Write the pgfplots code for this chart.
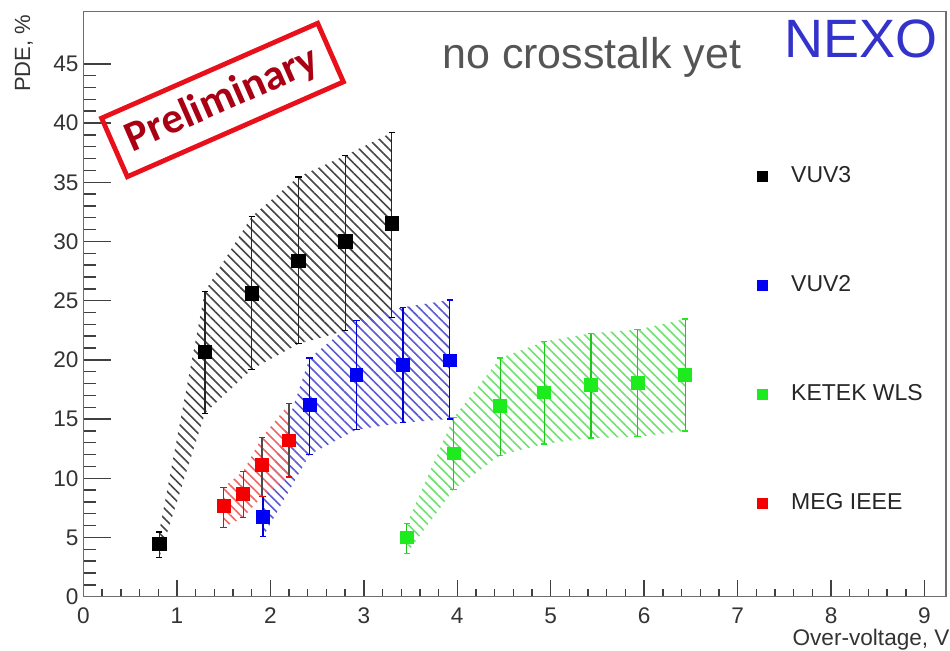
\documentclass[border=0pt]{standalone}
\usepackage{pgfplots}
\pgfplotsset{compat=1.18}
\usepackage{fontspec}
\setmainfont{Liberation Sans}
\newfontfamily\carlito{Carlito}
\usetikzlibrary{patterns.meta}
\definecolor{tickgray}{RGB}{51,51,51}
\definecolor{framegray}{RGB}{110,110,110}
\definecolor{annogray}{RGB}{85,85,85}
\definecolor{nexoblue}{RGB}{51,51,204}
\definecolor{prelred}{RGB}{232,16,26}
\definecolor{preltext}{RGB}{170,0,20}
\definecolor{ptblue}{RGB}{0,0,245}
\definecolor{ptred}{RGB}{245,0,0}
\definecolor{ptgreen}{RGB}{30,235,30}
\definecolor{hatchblack}{RGB}{70,70,70}
\definecolor{hatchblue}{RGB}{90,90,215}
\definecolor{hatchred}{RGB}{240,100,100}
\definecolor{hatchgreen}{RGB}{110,225,110}
\begin{document}
\begin{tikzpicture}
\useasboundingbox (-41.75pt,-27.15pt) rectangle (433.25pt,298.35pt);
\begin{axis}[
  scale only axis, width=431.25pt, height=292.6pt,
  at={(0,0)}, anchor=south west,
  xmin=0, xmax=9.23, ymin=0, ymax=49.42,
  xtick={0,1,...,9}, ytick={0,5,...,45},
  minor x tick num=4, minor y tick num=4,
  xtick pos=bottom, ytick pos=left,
  tick align=inside,
  xtick style={/pgfplots/major tick length=8.5pt,/pgfplots/minor tick length=4pt},
  ytick style={/pgfplots/major tick length=14pt,/pgfplots/minor tick length=6.5pt},
  every tick/.style={draw=black!75, line width=0.7pt},
  axis line style={draw=framegray, line width=0.8pt},
  /pgf/number format/assume math mode=true,
  ticklabel style={font=\fontsize{11.3}{13}\selectfont, text=tickgray},
  xticklabel style={yshift=-1.9pt},
  yticklabel style={xshift=1pt},
  xlabel={Over-voltage, V},
  xlabel style={at={(axis description cs:1,0)}, anchor=base east, inner sep=0pt,
    xshift=2pt, yshift=-24.2pt, font=\fontsize{11.3}{13}\selectfont, text=tickgray},
  ylabel={PDE, \%},
  ylabel style={at={(axis description cs:-0.069,0.995)}, anchor=east, rotate=0, inner sep=0pt,
    font=\fontsize{11}{13}\selectfont, text=tickgray},
  legend style={at={(axis description cs:0.7805,0.736)}, anchor=north west,
    draw=none, fill=none, inner sep=0pt, row sep=45pt,
    nodes={inner sep=0pt}, font=\fontsize{11.5}{13}\selectfont, text=black!85},
  legend cell align=left,
  legend image code/.code={\draw[#1, mark size=2.5pt] plot coordinates {(0pt,0pt)}; \path (-2.5pt,0pt) (14.15pt,0pt);},
]
% hatched bands (error envelopes)
\addplot[draw=none, forget plot, pattern={Lines[angle=-45,distance=3.5pt,line width=0.8pt]}, pattern color=hatchblack]
  coordinates {(0.81,5.46)(1.30,25.8)(1.80,32.1)(2.30,35.45)(2.80,37.25)(3.30,39.2)
               (3.30,23.55)(2.80,22.45)(2.30,21.35)(1.80,19.2)(1.30,15.5)(0.81,3.28)} -- cycle;
\addplot[draw=none, forget plot, pattern={Lines[angle=-45,distance=3.5pt,line width=0.8pt]}, pattern color=hatchblue]
  coordinates {(1.92,8.45)(2.42,20.15)(2.92,23.35)(3.42,24.45)(3.92,25.05)
               (3.92,15.0)(3.42,14.7)(2.92,14.1)(2.42,12.0)(1.92,5.05)} -- cycle;
\addplot[draw=none, forget plot, pattern={Lines[angle=-45,distance=3.5pt,line width=0.8pt]}, pattern color=hatchred]
  coordinates {(1.50,9.25)(1.71,10.6)(1.91,13.45)(2.20,16.3)
               (2.20,10.1)(1.91,8.45)(1.71,6.7)(1.50,5.85)} -- cycle;
\addplot[draw=none, forget plot, pattern={Lines[angle=-45,distance=3.5pt,line width=0.8pt]}, pattern color=hatchgreen]
  coordinates {(3.46,6.15)(3.96,15.1)(4.46,20.15)(4.93,21.55)(5.43,22.25)(5.93,22.55)(6.44,23.45)
               (6.44,14.0)(5.93,13.5)(5.43,13.4)(4.93,12.9)(4.46,11.95)(3.96,9.05)(3.46,3.65)} -- cycle;
% data points
\addplot[only marks, mark=square*, mark size=3.4pt, color=black,
  error bars/.cd, y dir=both, y explicit,
  error bar style={line width=0.6pt, draw=black!85},
  error mark options={rotate=90, mark size=1.6pt, line width=0.6pt}]
  coordinates {
  (0.81,4.47) += (0,0.99) -= (0,1.19)
  (1.30,20.66) += (0,5.14) -= (0,5.16)
  (1.80,25.6) += (0,6.5) -= (0,6.4)
  (2.30,28.35) += (0,7.1) -= (0,7.0)
  (2.80,30.0) += (0,7.25) -= (0,7.55)
  (3.30,31.5) += (0,7.7) -= (0,7.95)
  };
\addlegendentry{VUV3}
\addplot[only marks, mark=square*, mark size=3.2pt, color=ptblue,
  error bars/.cd, y dir=both, y explicit,
  error bar style={line width=0.6pt, draw=ptblue!85!black},
  error mark options={rotate=90, mark size=1.6pt, line width=0.6pt}]
  coordinates {
  (1.92,6.75) += (0,1.7) -= (0,1.7)
  (2.42,16.2) += (0,3.95) -= (0,4.2)
  (2.92,18.75) += (0,4.6) -= (0,4.65)
  (3.42,19.55) += (0,4.9) -= (0,4.85)
  (3.92,19.95) += (0,5.1) -= (0,4.95)
  };
\addlegendentry{VUV2}
\addplot[only marks, mark=square*, mark size=3.2pt, color=ptgreen,
  error bars/.cd, y dir=both, y explicit,
  error bar style={line width=0.6pt, draw=ptgreen!85!black},
  error mark options={rotate=90, mark size=1.6pt, line width=0.6pt}]
  coordinates {
  (3.46,5.0) += (0,1.15) -= (0,1.35)
  (3.96,12.1) += (0,3.0) -= (0,3.05)
  (4.46,16.1) += (0,4.05) -= (0,4.15)
  (4.93,17.25) += (0,4.3) -= (0,4.35)
  (5.43,17.9) += (0,4.35) -= (0,4.5)
  (5.93,18.05) += (0,4.5) -= (0,4.55)
  (6.44,18.75) += (0,4.7) -= (0,4.75)
  };
\addlegendentry{KETEK WLS}
\addplot[only marks, mark=square*, mark size=3.2pt, color=ptred,
  error bars/.cd, y dir=both, y explicit,
  error bar style={line width=0.6pt, draw=black!70},
  error mark options={rotate=90, mark size=1.6pt, line width=0.6pt}]
  coordinates {
  (1.50,7.65) += (0,1.6) -= (0,1.8)
  (1.71,8.65) += (0,1.95) -= (0,1.95)
  (1.91,11.1) += (0,2.35) -= (0,2.65)
  (2.20,13.2) += (0,3.1) -= (0,3.1)
  };
\addlegendentry{MEG IEEE}
% annotations
\node[anchor=base west, inner sep=0pt, text=annogray, font=\fontsize{21.5}{24}\selectfont]
  at ([xshift=179.25pt,yshift=264.0pt]axis description cs:0,0) {no crosstalk yet};
\node[anchor=base west, inner sep=0pt, text=nexoblue, font=\fontsize{27}{30}\selectfont]
  at ([xshift=350.25pt,yshift=269.35pt]axis description cs:0,0) {NEXO};
\node[draw=prelred, line width=2.4pt, rotate=23.7, minimum width=118pt, minimum height=32pt,
  inner sep=0pt, text=preltext, font=\carlito\bfseries\fontsize{21.5}{24}\selectfont]
  at ([xshift=69.5pt,yshift=248.35pt]axis description cs:0,0) {Preliminary};
\end{axis}
\end{tikzpicture}
\end{document}
